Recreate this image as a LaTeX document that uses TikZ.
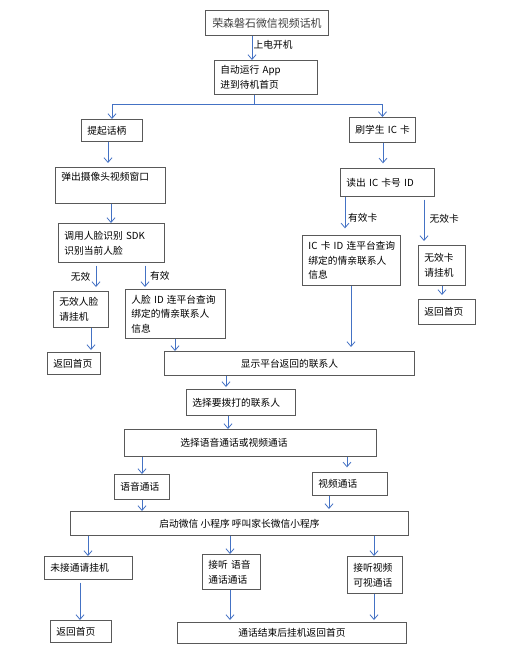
\documentclass[tikz,border=0pt]{standalone}
\usepackage{fontspec}
\newfontfamily\cjk{Noto Sans CJK SC}
\usetikzlibrary{arrows.meta}
\definecolor{arrblue}{HTML}{4472C4}
\definecolor{boxgray}{HTML}{595959}
\tikzset{
  box/.style={draw=boxgray, line width=0.7pt, anchor=north west, inner xsep=4.5pt, inner ysep=1pt, align=left},
  cbox/.style={box, align=center},
  arr/.style={draw=arrblue, line width=0.6pt, -{Straight Barb[length=3.5pt,width=6pt]}},
  lne/.style={draw=arrblue, line width=0.6pt},
  lbl/.style={inner sep=1pt},
}

\begin{document}
\begin{tikzpicture}[x=0.75pt,y=0.75pt,yscale=-1,xscale=1,font=\cjk\fontsize{7.3}{11}\selectfont]
\useasboundingbox (0,0) rectangle (520,667);

%Shape: Rectangle [title]
\node[cbox, minimum width=92.25pt, minimum height=18.75pt, text=black!75, font=\cjk\fontsize{8.2}{11}\selectfont] (title) at (205,10) {荣森磐石微信视频话机};
%Shape: Rectangle [app]
\node[box, text width=68.25pt, minimum height=25.5pt] (app) at (214,60) {自动运行~App\\进到待机首页};

%Shape: Rectangle [left branch]
\node[box, text width=36.75pt, minimum height=16.5pt] (lift) at (81,119) {提起话柄};
\node[box, text width=73.5pt, minimum height=27pt, text height=8pt, text depth=16pt] (popup) at (55,167) {弹出摄像头视频窗口};
\node[box, text width=70.5pt, minimum height=29.25pt] (sdk) at (58,223) {调用人脸识别~SDK\\识别当前人脸};
\node[box, text width=32.25pt, minimum height=27pt] (fail) at (53,291) {无效人脸\\请挂机};
\node[box, text width=66pt, minimum height=36.75pt] (face) at (125,289) {人脸~ID~连平台查询\\绑定的情亲联系人\\信息};
\node[box, text width=30.75pt, minimum height=16.5pt] (back1) at (47,352) {返回首页};

%Shape: Rectangle [right branch]
\node[box, text width=40.5pt, minimum height=18.75pt] (card) at (349,117) {刷学生~IC~卡};
\node[box, text width=61.5pt, minimum height=21pt] (read) at (340,168) {读出~IC~卡号~ID};
\node[box, text width=64.5pt, minimum height=37.5pt] (icinfo) at (302,235) {IC~卡~ID~连平台查询\\绑定的情亲联系人\\信息};
\node[box, text width=26.25pt, minimum height=30pt] (invalid) at (418,245) {无效卡\\请挂机};
\node[box, text width=33.75pt, minimum height=18.75pt] (back2) at (418,299) {返回首页};

%Shape: Rectangle [contacts]
\node[cbox, minimum width=187.5pt, minimum height=18pt] (show) at (164,351) {显示平台返回的联系人};
\node[box, text width=72.75pt, minimum height=19.5pt] (pick) at (186,389) {选择要拨打的联系人};
\node[box, text width=180pt, minimum height=20.25pt] (mode) at (124,429) {\hspace*{37.5pt}选择语音通话或视频通话};
\node[box, text width=32.25pt, minimum height=18.75pt] (voice) at (114,474) {语音通话};
\node[box, text width=47.25pt, minimum height=17.25pt] (video) at (312,472) {视频通话};

%Shape: Rectangle [call]
\node[cbox, minimum width=253.5pt, minimum height=18pt] (wx) at (70,511) {启动微信~小程序~呼叫家长微信小程序};
\node[box, text width=57pt, minimum height=17.25pt] (miss) at (44,556) {未接通请挂机};
\node[box, text width=34.5pt, minimum height=26.25pt] (ans1) at (202,554) {接听~语音\\通话通话};
\node[box, text width=32.25pt, minimum height=27.75pt] (ans2) at (347,556) {接听视频\\可视通话};
\node[box, text width=36.75pt, minimum height=16.5pt] (back3) at (50,620) {返回首页};
\node[cbox, minimum width=171.75pt, minimum height=15.75pt] (finish) at (177,622) {通话结束后挂机返回首页};

%Straight Lines [top]
\draw[arr] (title.south -| 252,0) -- (app.north -| 252,0) node[lbl, pos=0.35, right] {上电开机};
\coordinate (fork) at (254,104);
\draw[lne] (app.south -| fork) -- (fork);
\draw[arr] (fork) -| (lift.north);
\draw[arr] (fork) -| (card.north);

%Straight Lines [left]
\draw[arr, shorten >=3pt] (lift.south -| 108,0) -- (popup.north -| 108,0);
\draw[arr] (popup.south -| 111,0) -- (sdk.north -| 111,0);
\draw[arr, shorten <=2pt, shorten >=3pt] (sdk.south -| 96,0) -- (fail.north -| 96,0) node[lbl, midway, left=3pt] {无效};
\draw[arr, shorten <=2pt, shorten >=1.5pt] (sdk.south -| 145,0) -- (face.north -| 145,0) node[lbl, midway, right=2.5pt] {有效};
\draw[arr, shorten >=1.5pt] (fail.south -| 91,0) -- (back1.north -| 91,0);
\draw[arr] (face.south -| 175,0) -- (show.north -| 175,0);

%Straight Lines [right]
\draw[arr, shorten >=3.5pt] (card.south -| 383,0) -- (read.north -| 383,0);
\draw[arr, shorten >=5pt] (read.south -| 345,0) -- (icinfo.north -| 345,0) node[lbl, pos=0.55, right=1pt] {有效卡};
\draw[arr, shorten <=2pt, shorten >=3pt] (read.south -| 424,0) -- (invalid.north -| 424,0) node[lbl, pos=0.45, right=3pt] {无效卡};
\draw[arr, shorten >=3pt] (invalid.south -| 442,0) -- (back2.north -| 442,0);
\draw[arr, shorten >=3pt] (icinfo.south -| 351,0) -- (show.north -| 351,0);

%Straight Lines [middle]
\draw[arr, shorten >=1.5pt] (show.south -| 226,0) -- (pick.north -| 226,0);
\draw[arr] (pick.south -| 228,0) -- (mode.north -| 228,0);
\draw[arr] (mode.south -| 142,0) -- (voice.north -| 142,0);
\draw[arr, shorten >=3.5pt] (mode.south -| 347,0) -- (video.north -| 347,0);
\draw[arr] (voice.south -| 142,0) -- (wx.north -| 142,0);
\draw[arr, shorten >=1.5pt] (video.south -| 329,0) -- (wx.north -| 329,0);

%Straight Lines [bottom]
\draw[arr] (wx.south -| 88,0) -- (miss.north -| 88,0);
\draw[arr] (wx.south -| 230,0) -- (ans1.north -| 230,0);
\draw[arr] (wx.south -| 374,0) -- (ans2.north -| 374,0);
\draw[arr, shorten <=2pt] (miss.south -| 80,0) -- (back3.north -| 80,0);
\draw[arr, shorten >=1.5pt] (ans1.south -| 230,0) -- (finish.north -| 230,0);
\draw[arr, shorten >=1.5pt] (ans2.south -| 374,0) -- (finish.north -| 374,0);

\end{tikzpicture}
\end{document}
